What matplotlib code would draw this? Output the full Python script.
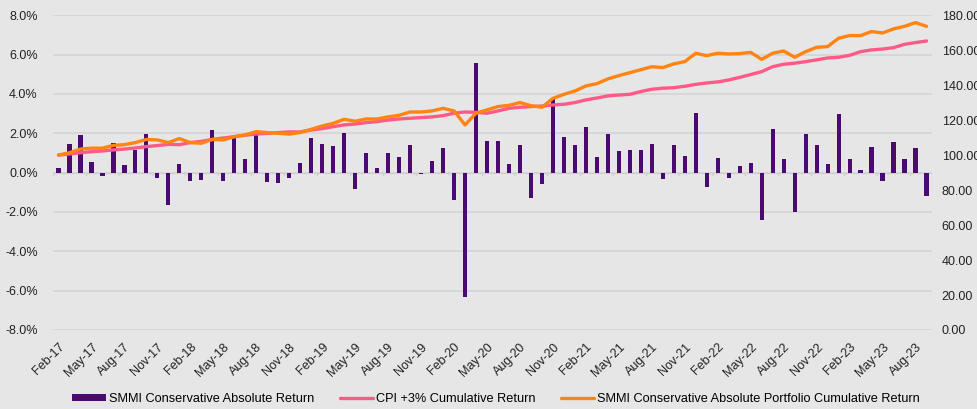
import numpy as np
import pandas as pd
import matplotlib
matplotlib.use('Agg')
import matplotlib.pyplot as plt
from matplotlib.ticker import FuncFormatter, MultipleLocator

# monthly data, Feb-17 .. Sep-23
months = pd.period_range('2017-02', periods=80, freq='M').strftime('%b-%y').tolist()

monthly_return = [
	0.22, 1.46, 1.92, 0.54, -0.17, 1.49, 0.41, 1.15, 1.97, -0.27, -1.66, 0.46,
	-0.44, -0.36, 2.17, -0.42, 1.83, 0.71, 2.00, -0.46, -0.53, -0.27, 0.51, 1.75,
	1.46, 1.36, 2.00, -0.81, 1.00, 0.22, 1.00, 0.80, 1.41, -0.05, 0.58, 1.25,
	-1.37, -6.31, 5.58, 1.61, 1.61, 0.46, 1.39, -1.27, -0.59, 3.75, 1.83, 1.42,
	2.32, 0.80, 1.98, 1.08, 1.17, 1.14, 1.44, -0.34, 1.41, 0.86, 3.05, -0.73,
	0.75, -0.29, 0.34, 0.51, -2.42, 2.24, 0.71, -1.98, 1.95, 1.41, 0.46, 3.00,
	0.68, 0.12, 1.32, -0.41, 1.56, 0.69, 1.25, -1.19,
]

cpi_cumulative = [
	100.0, 100.7, 101.4, 102.0, 102.4, 103.0, 103.5, 104.1, 104.9, 105.5, 106.2, 106.0,
	107.2, 107.9, 109.0, 109.8, 110.6, 111.4, 112.1, 112.5, 112.9, 113.3, 113.3, 114.4,
	115.2, 116.3, 117.3, 117.8, 118.6, 119.2, 120.1, 120.7, 121.1, 121.5, 121.9, 122.6,
	124.0, 124.7, 124.5, 124.0, 125.3, 126.8, 127.4, 127.8, 128.1, 128.7, 129.1, 130.1,
	131.6, 132.7, 133.9, 134.4, 134.8, 136.4, 137.7, 138.3, 138.6, 139.4, 140.5, 141.3,
	141.9, 143.0, 144.5, 146.1, 147.8, 150.6, 152.0, 152.6, 153.5, 154.5, 155.6, 156.0,
	157.1, 159.2, 160.2, 160.7, 161.5, 163.4, 164.4, 165.3,
]

portfolio_cumulative = [
	100.1, 101.4, 103.5, 104.0, 104.0, 105.6, 106.0, 107.2, 109.0, 108.7, 107.2, 109.5,
	107.2, 106.8, 109.0, 108.7, 110.6, 111.6, 113.5, 112.9, 112.5, 112.1, 112.9, 114.8,
	116.7, 118.2, 120.5, 119.4, 120.7, 120.7, 121.9, 122.8, 124.7, 124.7, 125.3, 126.8,
	125.3, 117.3, 124.0, 125.9, 127.8, 128.5, 130.1, 128.3, 127.4, 132.5, 134.8, 136.7,
	139.6, 140.9, 143.6, 145.5, 147.2, 148.9, 150.6, 150.1, 152.2, 153.5, 158.3, 156.9,
	158.3, 157.9, 158.1, 158.8, 154.8, 158.3, 159.6, 156.0, 159.2, 161.7, 162.1, 166.9,
	168.4, 168.4, 170.7, 169.9, 172.2, 173.7, 175.8, 173.7,
]

bg = '#e6e6e6'
plt.rcParams['font.family'] = ['Liberation Sans', 'DejaVu Sans']
plt.rcParams['font.size'] = 9

fig = plt.figure(figsize=(9.77, 4.09), dpi=100, facecolor=bg)
ax = fig.add_axes([53/977, 1 - 330/409, 879/977, (330 - 15.3)/409])
ax.set_facecolor(bg)
ax2 = ax.twinx()

x = np.arange(len(months))

ax.bar(x, monthly_return, width=0.38, color='#4b0a72', label='SMMI Conservative Absolute Return', zorder=3)
ax.axhline(0, color='#d0d0d0', linewidth=1, zorder=2)
# little category ticks hanging off the zero line
for b in np.arange(-0.5, len(months), 3):
	ax.plot([b, b], [0, -0.14], color='#d0d0d0', linewidth=1, zorder=2)

ax2.plot(x, cpi_cumulative, color='#ff5a87', linewidth=2.4, label='CPI +3% Cumulative Return', solid_capstyle='round')
ax2.plot(x, portfolio_cumulative, color='#ff8412', linewidth=2.4,
	label='SMMI Conservative Absolute Portfolio Cumulative Return', solid_capstyle='round')

ax.set_xlim(-0.5, len(months) - 0.5)
ax.set_ylim(-8, 8)
ax2.set_ylim(0, 180)

ax.yaxis.set_major_locator(MultipleLocator(2))
ax.yaxis.set_major_formatter(FuncFormatter(lambda v, p: '{:.1f}%'.format(v)))
ax2.yaxis.set_major_locator(MultipleLocator(20))
ax2.yaxis.set_major_formatter(FuncFormatter(lambda v, p: '{:.2f}'.format(v)))

ax.yaxis.grid(True, color='#d4d4d4', linewidth=1.2, zorder=0)
ax.set_axisbelow(True)

ax.set_xticks(x[::3])
ax.set_xticklabels(months[::3], rotation=45, ha='right', rotation_mode='anchor')

for a in (ax, ax2):
	for s in a.spines.values():
		s.set_visible(False)
	a.tick_params(length=0, colors='#222222', labelsize=9)
ax.tick_params(axis='y', pad=11)
ax2.tick_params(axis='y', pad=7)
ax.tick_params(axis='x', pad=8)

h1, l1 = ax.get_legend_handles_labels()
h2, l2 = ax2.get_legend_handles_labels()
fig.legend(h1 + h2, l1 + l2, loc='center', bbox_to_anchor=(0.508, 10/409),
	ncol=3, frameon=False, fontsize=9.2, handlelength=2.6, handleheight=0.5,
	handletextpad=0.25, columnspacing=2.0)

fig.savefig('out.png', dpi=100, facecolor=bg)
